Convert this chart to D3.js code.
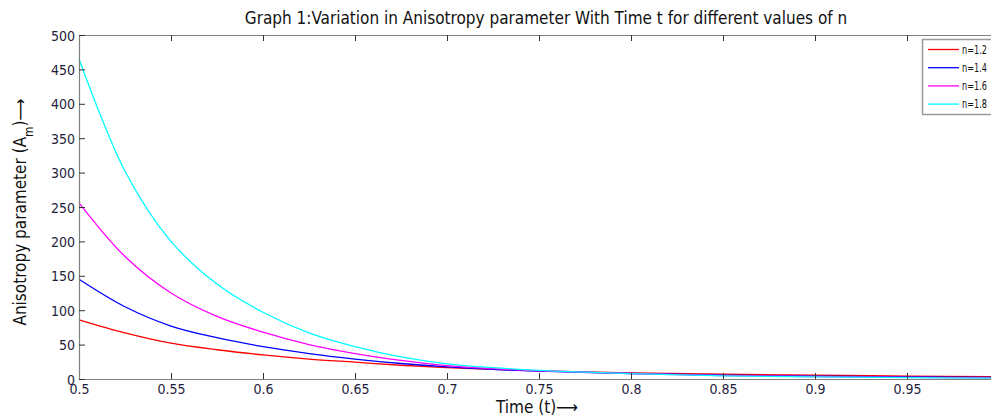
<!DOCTYPE html>
<html>
<head>
<meta charset="utf-8">
<script src="https://cdn.jsdelivr.net/npm/d3@7"></script>
<style>
  body { margin: 0; background: #fff; overflow: hidden; }
  text { font-family: "Liberation Sans Narrow", "DejaVu Sans Condensed", sans-serif; font-stretch: condensed; }
</style>
</head>
<body>
<div id="viz_div"></div>
<script>
// time values (t) and A_m for each n
var t_vals   = [0.5, 0.525, 0.55, 0.575, 0.6, 0.625, 0.65, 0.675, 0.7, 0.725, 0.75, 0.8, 0.85, 0.9, 0.95, 1.0];
var n_12     = [86, 67, 52, 42.5, 35, 29, 24.5, 20, 16.5, 14, 11.8, 9, 7, 5.5, 4.3, 3.5];
var n_14     = [145, 105, 77, 60, 47, 37, 29, 22.5, 17.5, 14, 11.5, 8, 5.5, 4, 3, 2.2];
var n_16     = [256, 178, 125, 91, 68, 50, 37, 27, 19.5, 15, 12, 8, 5, 3.5, 2.5, 1.6];
var n_18     = [465, 302, 200, 138, 97, 67, 47, 32, 22, 16.5, 12.5, 7.8, 4.5, 3, 2, 1.2];
var series_names = ["n=1.2", "n=1.4", "n=1.6", "n=1.8"];
var series_cols  = ["#ff0000", "#0000ff", "#ff00ff", "#00ffff"];
var x_ticks = [0.5, 0.55, 0.6, 0.65, 0.7, 0.75, 0.8, 0.85, 0.9, 0.95];
var y_ticks = [0, 50, 100, 150, 200, 250, 300, 350, 400, 450, 500];

var w = 991, h = 418;
var left = 79, top_ = 35, bottom = 379, right = 999;

var svg = d3.select("#viz_div").append("svg")
            .attr("width", w)
            .attr("height", h);

var x = d3.scaleLinear().domain([0.5, 1.0]).range([left, right]);
var y = d3.scaleLinear().domain([0, 500]).range([bottom, top_]);

var all_series = [n_12, n_14, n_16, n_18];

var line = d3.line()
             .x(function(d) { return x(d[0]); })
             .y(function(d) { return y(d[1]); })
             .curve(d3.curveCatmullRom.alpha(0.5));

svg.selectAll("path.series")
   .data(all_series)
   .enter()
   .append("path")
   .attr("class", "series")
   .attr("d", function(s) { return line(t_vals.map(function(t, i) { return [t, s[i]]; })); })
   .attr("fill", "none")
   .attr("stroke", function(d, i) { return series_cols[i]; })
   .attr("stroke-width", 1.3);

// axes (MATLAB style: ticks point inward)
var tick_col = "#333", frame_col = "#808080", label_col = "#1e1e3c";

var xAxis = d3.axisBottom(x).tickValues(x_ticks).tickSizeInner(-6).tickSizeOuter(0)
              .tickPadding(9).tickFormat(function(d) { return d3.format("")(d); });
var gx = svg.append("g").attr("transform", "translate(0," + bottom + ")").call(xAxis);

var xAxisTop = d3.axisTop(x).tickValues(x_ticks).tickSizeInner(-6).tickSizeOuter(0).tickFormat("");
var gxt = svg.append("g").attr("transform", "translate(0," + top_ + ")").call(xAxisTop);

var yAxis = d3.axisLeft(y).tickValues(y_ticks).tickSizeInner(-6).tickSizeOuter(0).tickPadding(4);
var gy = svg.append("g").attr("transform", "translate(" + left + ",0)").call(yAxis);

[gx, gxt, gy].forEach(function(g) {
  g.select(".domain").attr("stroke", frame_col).attr("stroke-width", 1.2);
  g.selectAll(".tick line").attr("stroke", tick_col);
  g.selectAll(".tick text")
   .attr("fill", label_col)
   .style("font-size", "14px")
   .style("font-family", '"Liberation Sans Narrow", "DejaVu Sans Condensed", sans-serif');
});
gy.selectAll(".tick text").attr("dy", "0.36em");
gx.selectAll(".tick text").attr("y", 5).attr("dy", "0.71em");

// title and axis labels
svg.append("text")
   .attr("x", 546).attr("y", 24)
   .attr("text-anchor", "middle")
   .attr("fill", "#111")
   .style("font-size", "17px")
   .text("Graph 1:Variation in Anisotropy parameter With Time t for different values of n");

svg.append("text")
   .attr("x", 537).attr("y", 413)
   .attr("text-anchor", "middle")
   .attr("fill", "#111")
   .style("font-size", "17px")
   .text("Time (t)\u27F6");

var ylab = svg.append("text")
   .attr("transform", "translate(26,212) rotate(-90)")
   .attr("text-anchor", "middle")
   .attr("fill", "#111")
   .style("font-size", "17px");
ylab.append("tspan").text("Anisotropy parameter (A");
ylab.append("tspan").attr("baseline-shift", "sub").style("font-size", "12px").text("m");
ylab.append("tspan").text(")\u27F6");

// legend
var lg = svg.append("g");
lg.append("rect")
  .attr("x", 922.5).attr("y", 39.5).attr("width", 90).attr("height", 75)
  .attr("fill", "#fff").attr("stroke", "#999").attr("stroke-width", 1.5);

var rows = lg.selectAll("g.row")
  .data(series_names)
  .enter()
  .append("g")
  .attr("class", "row")
  .attr("transform", function(d, i) { return "translate(0," + (49.5 + i * 18.2) + ")"; });

rows.append("line")
  .attr("x1", 928).attr("x2", 959)
  .attr("stroke", function(d, i) { return series_cols[i]; })
  .attr("stroke-width", 1.3);

rows.append("text")
  .attr("x", 962).attr("y", 0).attr("dy", "0.35em")
  .attr("fill", "#111")
  .attr("textLength", 25)
  .attr("lengthAdjust", "spacingAndGlyphs")
  .style("font-size", "12px")
  .text(function(d) { return d; });
</script>
</body>
</html>
